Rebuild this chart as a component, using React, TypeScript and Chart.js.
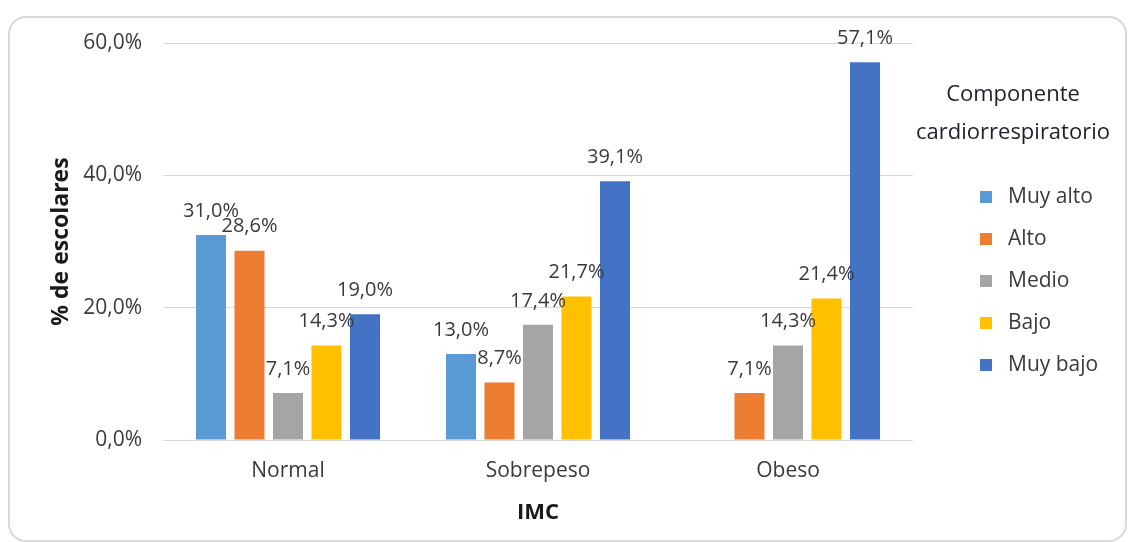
import React, { useEffect, useRef } from "react";
import { Chart, registerables } from "chart.js";

Chart.register(...registerables);

const categories = ["Normal", "Sobrepeso", "Obeso"];
const seriesLabels = ["Muy alto", "Alto", "Medio", "Bajo", "Muy bajo"];
const muyAlto = [31.0, 13.0, null];
const alto = [28.6, 8.7, 7.1];
const medio = [7.1, 17.4, 14.3];
const bajo = [14.3, 21.7, 21.4];
const muyBajo = [19.0, 39.1, 57.1];
const yTicks = [0, 20, 40, 60];
const legendTitle = ["Componente", "cardiorrespiratorio"];
const yTitle = "% de escolares";
const xTitle = "IMC";
const seriesColors = ["#5B9BD5", "#ED7D31", "#A5A5A5", "#FFC000", "#4472C4"];

const FONT = "'Open Sans', sans-serif";
const TEXT = "#3a3a3a";

const fmt = (v: number) => v.toFixed(1).replace(".", ",") + "%";

const valueLabels = {
  id: "valueLabels",
  afterDatasetsDraw(chart: any) {
    const ctx = chart.ctx;
    ctx.save();
    ctx.font = `20px ${FONT}`;
    ctx.fillStyle = TEXT;
    ctx.textAlign = "center";
    ctx.textBaseline = "middle";
    chart.data.datasets.forEach((ds: any, i: number) => {
      const meta = chart.getDatasetMeta(i);
      meta.data.forEach((el: any, j: number) => {
        const v = ds.data[j];
        if (v == null) return;
        ctx.fillText(fmt(v), el.x, el.y - 24);
      });
    });
    ctx.restore();
  },
};

const customLegend = {
  id: "customLegend",
  afterDraw(chart: any) {
    const ctx = chart.ctx;
    const area = chart.chartArea;
    const titleX = area.right + 100;
    ctx.save();
    ctx.textBaseline = "middle";
    ctx.textAlign = "center";
    ctx.fillStyle = "#1f1f2a";
    ctx.font = `22px ${FONT}`;
    legendTitle.forEach((line, i) => {
      ctx.fillText(line, titleX, 95 + i * 38);
    });
    ctx.textAlign = "left";
    ctx.font = `21px ${FONT}`;
    const boxX = area.right + 67;
    chart.data.datasets.forEach((ds: any, i: number) => {
      const cy = 197 + i * 42;
      ctx.fillStyle = ds.backgroundColor;
      ctx.fillRect(boxX, cy - 6, 12, 12);
      ctx.fillStyle = TEXT;
      ctx.fillText(ds.label, boxX + 28, cy);
    });
    ctx.restore();
  },
};

export default function App() {
  const canvasRef = useRef<HTMLCanvasElement | null>(null);

  useEffect(() => {
    if (!canvasRef.current) return;
    const seriesData = [muyAlto, alto, medio, bajo, muyBajo];
    const chart = new Chart(canvasRef.current, {
      type: "bar",
      data: {
        labels: categories,
        datasets: seriesLabels.map((label, i) => ({
          label,
          data: seriesData[i],
          backgroundColor: seriesColors[i],
          borderWidth: 0,
          categoryPercentage: 0.77,
          barPercentage: 0.78,
        })),
      },
      options: {
        responsive: false,
        animation: false,
        devicePixelRatio: 1,
        layout: { padding: { left: 0, top: 43, right: 215, bottom: 0 } },
        plugins: {
          legend: { display: false },
          tooltip: { enabled: false },
        },
        scales: {
          x: {
            grid: { display: false, drawTicks: false },
            border: { display: false },
            ticks: { color: TEXT, font: { family: FONT, size: 21 }, padding: 18 },
            title: {
              display: true,
              text: xTitle,
              color: "#1a1a1a",
              font: { family: FONT, size: 22, weight: "bold" },
              padding: { top: 0, bottom: 16 },
            },
            afterFit: (scale: any) => {
              scale.height = 102;
            },
          },
          y: {
            min: yTicks[0],
            max: yTicks[yTicks.length - 1],
            grid: { color: "#d9d9d9", lineWidth: 1, drawTicks: false },
            border: { display: false },
            ticks: {
              stepSize: yTicks[1] - yTicks[0],
              color: TEXT,
              font: { family: FONT, size: 21 },
              padding: 21,
              callback: (v: any) => fmt(Number(v)),
            },
            title: {
              display: true,
              text: yTitle,
              color: "#1a1a1a",
              font: { family: FONT, size: 23, weight: "bold" },
              padding: { top: 48, bottom: 0 },
            },
            afterFit: (scale: any) => {
              scale.width = 163;
            },
          },
        },
      },
      plugins: [valueLabels, customLegend],
    });
    return () => chart.destroy();
  }, []);

  return (
    <div>
      <div
        style={{
          position: "absolute",
          left: 8,
          top: 16,
          width: 1119,
          height: 526,
          boxSizing: "border-box",
          border: "2px solid #d9d9d9",
          borderRadius: 18,
          background: "#fff",
        }}
      />
      <canvas
        ref={canvasRef}
        width={1128}
        height={542}
        style={{ position: "absolute", left: 0, top: 0, width: 1128, height: 542 }}
      />
    </div>
  );
}
